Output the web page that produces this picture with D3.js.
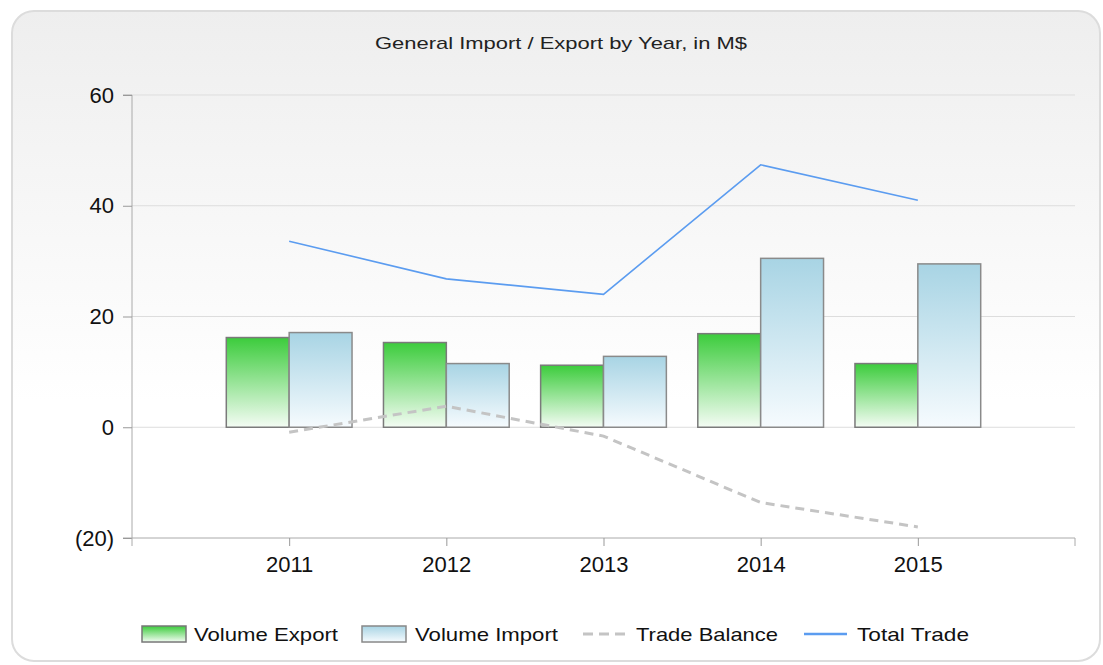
<!DOCTYPE html>
<html><head><meta charset="utf-8">
<script src="https://cdn.jsdelivr.net/npm/d3@7"></script>
<style>body{margin:0;background:#fff;}svg{display:block;font-family:"Liberation Sans",Arial,sans-serif;}</style>
</head><body>
<svg id="c" width="1103" height="665"></svg>
<script>
const years = ["2011","2012","2013","2014","2015"];
const volumeExport = [16.2, 15.3, 11.2, 16.9, 11.5];
const volumeImport = [17.1, 11.5, 12.8, 30.5, 29.5];
const tradeBalance = [-0.9, 3.8, -1.6, -13.6, -18.0];
const totalTrade = [33.6, 26.8, 24.0, 47.4, 41.0];
const yTicks = [-20, 0, 20, 40, 60];

const svg = d3.select("#c");
const defs = svg.append("defs");
const bg = defs.append("linearGradient").attr("id","bg").attr("x1",0).attr("y1",0).attr("x2",0).attr("y2",1);
bg.append("stop").attr("offset","0%").attr("stop-color","#eeeeee");
bg.append("stop").attr("offset","60%").attr("stop-color","#ffffff");
bg.append("stop").attr("offset","100%").attr("stop-color","#ffffff");
const ge = defs.append("linearGradient").attr("id","gExp").attr("x1",0).attr("y1",0).attr("x2",0).attr("y2",1);
ge.append("stop").attr("offset","0%").attr("stop-color","#3ccc3c");
ge.append("stop").attr("offset","100%").attr("stop-color","#f4fcf4");
const gi = defs.append("linearGradient").attr("id","gImp").attr("x1",0).attr("y1",0).attr("x2",0).attr("y2",1);
gi.append("stop").attr("offset","0%").attr("stop-color","#a8d4e4");
gi.append("stop").attr("offset","100%").attr("stop-color","#f6fbfe");

svg.append("rect").attr("x",12).attr("y",11).attr("width",1088).attr("height",650)
  .attr("rx",22).attr("fill","url(#bg)").attr("stroke","#dcdcdc").attr("stroke-width",2);

svg.append("text").attr("x",375).attr("y",49)
  .attr("textLength",372).attr("lengthAdjust","spacingAndGlyphs")
  .style("font-size","17px").attr("fill","#222").text("General Import / Export by Year, in M$");

const x0 = 132, x1 = 1075;
const x = d3.scalePoint().domain(years).range([x0, x1]).padding(1);
const y = d3.scaleLinear().domain([-20, 60]).range([538, 95]);
const step = x.step();
const barW = step * 0.4;

// grid
svg.append("g").selectAll("line").data(yTicks.filter(d=>d>-20)).join("line")
  .attr("x1",x0).attr("x2",x1).attr("y1",d=>y(d)).attr("y2",d=>y(d))
  .attr("stroke","#dddddd").attr("stroke-width",1);

// y axis
const ya = svg.append("g").attr("transform",`translate(${x0},0)`)
  .call(d3.axisLeft(y).tickValues(yTicks).tickSize(9).tickPadding(9)
    .tickFormat(d => d < 0 ? `(${Math.abs(d)})` : d));
ya.select(".domain").attr("stroke","#aaaaaa").attr("d",`M-9,${y(60)}H0V${y(-20)}H-9`);
ya.selectAll(".tick line").attr("stroke","#999");
ya.selectAll("text").style("font-size","22px").attr("fill","#111").style("font-family","Liberation Sans, Arial, sans-serif");

// x axis
const xa = svg.append("g").attr("transform",`translate(0,${y(-20)})`)
  .call(d3.axisBottom(x).tickSize(8).tickPadding(10));
xa.select(".domain").attr("stroke","#aaaaaa").attr("d",`M${x0},8V0H${x1}V8`);
xa.selectAll(".tick line").attr("stroke","#999");
xa.selectAll("text").style("font-size","22px").attr("fill","#111").style("font-family","Liberation Sans, Arial, sans-serif");

// bars
const bars = svg.append("g");
bars.selectAll("rect.e").data(years).join("rect").attr("class","e")
  .attr("x",d=>x(d)-barW).attr("width",barW)
  .attr("y",(d,i)=>y(volumeExport[i])).attr("height",(d,i)=>y(0)-y(volumeExport[i]))
  .attr("fill","url(#gExp)").attr("stroke","#7a7a7a").attr("stroke-width",1.5);
bars.selectAll("rect.i").data(years).join("rect").attr("class","i")
  .attr("x",d=>x(d)).attr("width",barW)
  .attr("y",(d,i)=>y(volumeImport[i])).attr("height",(d,i)=>y(0)-y(volumeImport[i]))
  .attr("fill","url(#gImp)").attr("stroke","#8a8a8a").attr("stroke-width",1.5);

// lines
const line = d3.line().x(d=>x(d[0])).y(d=>y(d[1]));
svg.append("path").datum(years.map((d,i)=>[d,tradeBalance[i]])).attr("d",line)
  .attr("fill","none").attr("stroke","#c4c4c4").attr("stroke-width",3).attr("stroke-dasharray","9,6");
svg.append("path").datum(years.map((d,i)=>[d,totalTrade[i]])).attr("d",line)
  .attr("fill","none").attr("stroke","#5b9cf0").attr("stroke-width",1.6);

// legend
const lg = svg.append("g").attr("fill","#111").style("font-size","19px");
const ly = 634;
function ltext(xp, w, t){
  lg.append("text").attr("x",xp).attr("y",ly+7).attr("textLength",w).attr("lengthAdjust","spacingAndGlyphs").text(t);
}
lg.append("rect").attr("x",142).attr("y",ly-8).attr("width",44).attr("height",16).attr("fill","url(#gExp)").attr("stroke","#777").attr("stroke-width",1.5);
ltext(194, 144, "Volume Export");
lg.append("rect").attr("x",362).attr("y",ly-8).attr("width",44).attr("height",16).attr("fill","url(#gImp)").attr("stroke","#888").attr("stroke-width",1.5);
ltext(415, 143, "Volume Import");
lg.append("line").attr("x1",583).attr("x2",625).attr("y1",ly).attr("y2",ly).attr("stroke","#c4c4c4").attr("stroke-width",3).attr("stroke-dasharray","10,6");
ltext(636, 142, "Trade Balance");
lg.append("line").attr("x1",804).attr("x2",847).attr("y1",ly).attr("y2",ly).attr("stroke","#5b9cf0").attr("stroke-width",2.5);
ltext(857, 112, "Total Trade");
</script>
</body></html>
